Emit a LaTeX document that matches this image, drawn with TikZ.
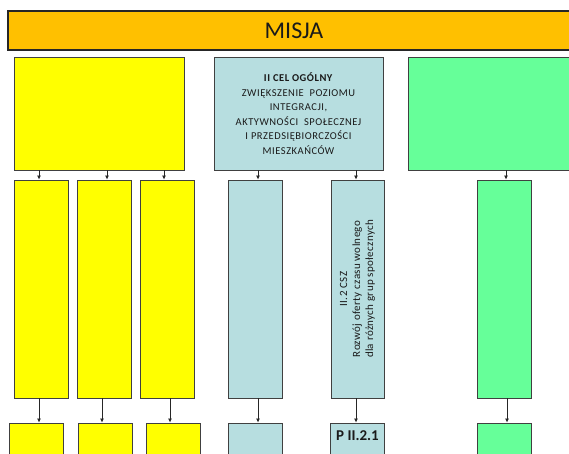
\documentclass[tikz,border=0pt]{standalone}
\usepackage{fontspec}
\setmainfont{Carlito}
\usetikzlibrary{arrows.meta}
\definecolor{misjaC}{HTML}{FFC000}
\definecolor{yelC}{HTML}{FFFF00}
\definecolor{bluC}{HTML}{B7DEE0}
\definecolor{grnC}{HTML}{66FF99}
\definecolor{edgeC}{HTML}{404040}
\definecolor{txtC}{HTML}{1A1A1A}
\begin{document}
\begin{tikzpicture}[x=1pt,y=-1pt,
  bx/.style={draw=edgeC, line width=0.9pt, inner sep=0pt, text=txtC},
  topbox/.style={bx, minimum width=#1, minimum height=113pt},
  midbox/.style={bx, minimum width=54pt, minimum height=218pt},
  botbox/.style={bx, minimum width=54pt, minimum height=60pt},
  arr/.style={draw=black!85, line width=0.7pt, -{Latex[length=4pt,width=4pt]}},
  misjastyle/.style={draw=black!85, line width=1.3pt, fill=misjaC, inner sep=0pt,
    minimum width=572pt, minimum height=39pt, text=txtC,
    font={\fontsize{24}{24}\selectfont}},
  bluetext/.style={font={\fontsize{10.5}{14.5}\selectfont\addfontfeatures{LetterSpace=5}}, align=center},
  rottext/.style={font={\fontsize{11}{13}\selectfont\addfontfeatures{LetterSpace=3}}, align=center},
  plabel/.style={font={\bfseries\fontsize{15}{15}\selectfont}, text=txtC, inner sep=0pt}
]
\clip (0,0) rectangle (569,454);
\useasboundingbox (0,0) rectangle (569,454);

% mission bar
\node[misjastyle] (misja) at (294,30.5) {MISJA};

% top row
\node[topbox=170pt, fill=yelC] (ty) at (99,113.5) {};
\node[topbox=169pt, fill=bluC, bluetext] (tb) at (298.5,113.5)
  {\textbf{II CEL OGÓLNY}\\ZWIĘKSZENIE\ \ POZIOMU\\INTEGRACJI,\\AKTYWNOŚCI\ \ SPOŁECZNEJ\\I PRZEDSIĘBIORCZOŚCI\\MIESZKAŃCÓW};
\node[topbox=170pt, fill=grnC] (tg) at (493,113.5) {};

% middle row
\node[midbox, fill=yelC] (my1) at (41,289) {};
\node[midbox, fill=yelC] (my2) at (104,289) {};
\node[midbox, fill=yelC] (my3) at (167,289) {};
\node[midbox, fill=bluC] (mb1) at (255,289) {};
\node[bx, fill=bluC, minimum width=218pt, minimum height=53pt, rotate=90, rottext] (mb2) at (357.5,289)
  {II.2 CSZ\\Rozwój oferty czasu wolnego\\dla różnych grup społecznych};
\node[midbox, fill=grnC] (mg) at (504,289) {};

% bottom row
\node[botbox, fill=yelC] (by1) at (36,453) {};
\node[botbox, fill=yelC] (by2) at (105,453) {};
\node[botbox, fill=yelC] (by3) at (173,453) {};
\node[botbox, fill=bluC] (bb1) at (255,453) {};
\node[botbox, fill=bluC, label={[plabel, anchor=north, yshift=-8pt]north:P II.2.1}] (bb2) at (357.5,453) {};
\node[botbox, fill=grnC] (bg) at (504,453) {};

% arrows top -> middle
\draw[arr] ([xshift=-2pt]my1.north |- ty.south) -- ([xshift=-2pt]my1.north);
\draw[arr] ([xshift=3pt]my2.north |- ty.south) -- ([xshift=3pt]my2.north);
\draw[arr] ([xshift=-3pt]my3.north |- ty.south) -- ([xshift=-3pt]my3.north);
\draw[arr] ([xshift=3pt]mb1.north |- tb.south) -- ([xshift=3pt]mb1.north);
\draw[arr] ([xshift=-1.5pt]mb2.east |- tb.south) -- ([xshift=-1.5pt]mb2.east);
\draw[arr] ([xshift=2pt]mg.north |- tg.south) -- ([xshift=2pt]mg.north);

% arrows middle -> bottom
\draw[arr] ([xshift=-2pt]my1.south) -- ([xshift=-2pt]my1.south |- by1.north);
\draw[arr] ([xshift=-2pt]my2.south) -- ([xshift=-2pt]my2.south |- by2.north);
\draw[arr] ([xshift=3pt]my3.south) -- ([xshift=3pt]my3.south |- by3.north);
\draw[arr] ([xshift=3pt]mb1.south) -- ([xshift=3pt]mb1.south |- bb1.north);
\draw[arr] ([xshift=-1.5pt]mb2.west) -- ([xshift=-1.5pt]mb2.west |- bb2.north);
\draw[arr] ([xshift=3pt]mg.south) -- ([xshift=3pt]mg.south |- bg.north);
\end{tikzpicture}
\end{document}
